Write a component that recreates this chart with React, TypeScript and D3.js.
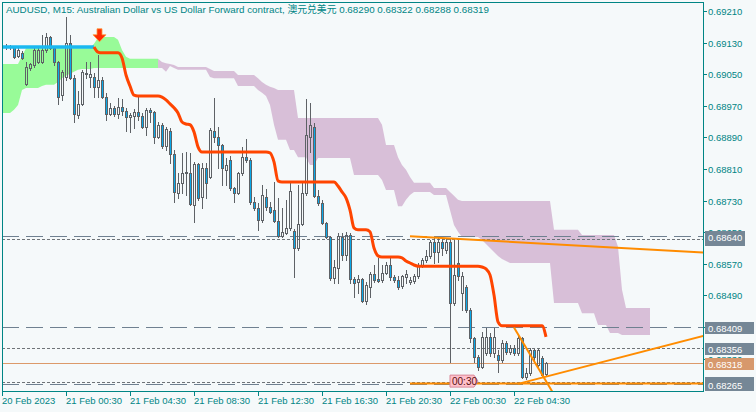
import React from 'react';
import * as d3 from 'd3';

// ---------------- data ----------------
const title = 'AUDUSD, M15:  Australian Dollar vs US Dollar Forward contract, 澳元兑美元  0.68290 0.68322 0.68288 0.68319';

const firstBarIndex = 1;
const opens = [
  0.69121, 0.69119, 0.69119, 0.69096, 0.69104, 0.69025, 0.69066, 0.69073, 0.69081, 0.69081,
  0.69111, 0.69144, 0.69116, 0.69081, 0.68997, 0.69043, 0.69129, 0.69040, 0.68947, 0.68975,
  0.69053, 0.69043, 0.69043, 0.69018, 0.69035, 0.68992, 0.68949, 0.68965, 0.68949, 0.68967,
  0.68957, 0.68942, 0.68944, 0.68954, 0.68944, 0.68916, 0.68960, 0.68954, 0.68891, 0.68922,
  0.68868, 0.68906, 0.68848, 0.68749, 0.68775, 0.68800, 0.68800, 0.68719, 0.68823, 0.68739,
  0.68813, 0.68790, 0.68906, 0.68891, 0.68871, 0.68808, 0.68833, 0.68762, 0.68749, 0.68800,
  0.68840, 0.68833, 0.68727, 0.68711, 0.68681, 0.68739, 0.68714, 0.68706, 0.68678, 0.68640,
  0.68648, 0.68661, 0.68653, 0.68610, 0.68671, 0.68749, 0.68891, 0.68916, 0.68742, 0.68724,
  0.68673, 0.68638, 0.68534, 0.68559, 0.68638, 0.68592, 0.68643, 0.68532, 0.68524, 0.68532,
  0.68476, 0.68511, 0.68544, 0.68532, 0.68529, 0.68547, 0.68567, 0.68537, 0.68529, 0.68514,
  0.68537, 0.68524, 0.68527, 0.68539, 0.68564, 0.68580, 0.68590, 0.68625, 0.68600, 0.68625,
  0.68605, 0.68625, 0.68471, 0.68572, 0.68496, 0.68511, 0.68453, 0.68382, 0.68334, 0.68309,
  0.68344, 0.68385, 0.68344, 0.68339, 0.68326, 0.68370, 0.68347, 0.68357, 0.68344, 0.68382,
  0.68283, 0.68293, 0.68352, 0.68314, 0.68331, 0.68290,
];
const highs = [
  0.69127, 0.69124, 0.69121, 0.69116, 0.69109, 0.69081, 0.69078, 0.69116, 0.69116, 0.69149,
  0.69154, 0.69147, 0.69119, 0.69083, 0.69061, 0.69195, 0.69149, 0.69048, 0.69008, 0.69061,
  0.69081, 0.69081, 0.69053, 0.69099, 0.69043, 0.69003, 0.68977, 0.68970, 0.68990, 0.68987,
  0.68965, 0.68952, 0.68962, 0.68992, 0.68952, 0.68965, 0.68965, 0.68957, 0.68929, 0.68927,
  0.68916, 0.68914, 0.68858, 0.68800, 0.68851, 0.68853, 0.68851, 0.68828, 0.68825, 0.68825,
  0.68825, 0.68914, 0.68990, 0.68916, 0.68873, 0.68838, 0.68843, 0.68765, 0.68803, 0.68866,
  0.68886, 0.68838, 0.68739, 0.68724, 0.68770, 0.68760, 0.68727, 0.68777, 0.68737, 0.68711,
  0.68732, 0.68775, 0.68658, 0.68770, 0.68775, 0.68987, 0.68977, 0.68927, 0.68757, 0.68732,
  0.68676, 0.68640, 0.68580, 0.68648, 0.68648, 0.68651, 0.68648, 0.68537, 0.68542, 0.68534,
  0.68524, 0.68549, 0.68567, 0.68585, 0.68567, 0.68575, 0.68587, 0.68542, 0.68539, 0.68542,
  0.68554, 0.68537, 0.68544, 0.68572, 0.68585, 0.68605, 0.68630, 0.68635, 0.68635, 0.68635,
  0.68635, 0.68635, 0.68630, 0.68630, 0.68549, 0.68516, 0.68458, 0.68385, 0.68339, 0.68397,
  0.68408, 0.68395, 0.68408, 0.68352, 0.68377, 0.68375, 0.68365, 0.68365, 0.68387, 0.68385,
  0.68306, 0.68357, 0.68354, 0.68354, 0.68337, 0.68322,
];
const lows = [
  0.69114, 0.69114, 0.69091, 0.69094, 0.69089, 0.69023, 0.69061, 0.69068, 0.69078, 0.69078,
  0.69106, 0.69114, 0.69073, 0.68975, 0.68985, 0.69035, 0.69038, 0.68929, 0.68939, 0.68972,
  0.69040, 0.69018, 0.68992, 0.68992, 0.68990, 0.68934, 0.68947, 0.68944, 0.68939, 0.68947,
  0.68906, 0.68904, 0.68914, 0.68934, 0.68914, 0.68896, 0.68929, 0.68876, 0.68889, 0.68863,
  0.68858, 0.68825, 0.68727, 0.68737, 0.68749, 0.68744, 0.68719, 0.68676, 0.68732, 0.68711,
  0.68737, 0.68787, 0.68878, 0.68813, 0.68770, 0.68770, 0.68757, 0.68727, 0.68747, 0.68795,
  0.68828, 0.68721, 0.68706, 0.68656, 0.68676, 0.68706, 0.68699, 0.68676, 0.68638, 0.68638,
  0.68645, 0.68656, 0.68537, 0.68605, 0.68668, 0.68744, 0.68853, 0.68739, 0.68719, 0.68671,
  0.68635, 0.68529, 0.68521, 0.68521, 0.68580, 0.68580, 0.68521, 0.68486, 0.68496, 0.68473,
  0.68468, 0.68486, 0.68524, 0.68524, 0.68524, 0.68544, 0.68529, 0.68524, 0.68506, 0.68509,
  0.68521, 0.68519, 0.68521, 0.68534, 0.68562, 0.68575, 0.68585, 0.68572, 0.68575, 0.68592,
  0.68597, 0.68321, 0.68466, 0.68529, 0.68453, 0.68448, 0.68372, 0.68321, 0.68301, 0.68306,
  0.68339, 0.68337, 0.68334, 0.68296, 0.68321, 0.68342, 0.68342, 0.68339, 0.68339, 0.68281,
  0.68278, 0.68288, 0.68326, 0.68309, 0.68283, 0.68288,
];
const closes = [
  0.69119, 0.69121, 0.69094, 0.69111, 0.69091, 0.69068, 0.69076, 0.69111, 0.69111, 0.69111,
  0.69144, 0.69116, 0.69081, 0.68992, 0.69056, 0.69129, 0.69040, 0.68949, 0.68975, 0.69056,
  0.69051, 0.69051, 0.69018, 0.69035, 0.68992, 0.68949, 0.68965, 0.68949, 0.68967, 0.68957,
  0.68942, 0.68947, 0.68954, 0.68944, 0.68916, 0.68960, 0.68954, 0.68891, 0.68922, 0.68868,
  0.68911, 0.68848, 0.68752, 0.68775, 0.68800, 0.68803, 0.68721, 0.68823, 0.68737, 0.68813,
  0.68775, 0.68909, 0.68891, 0.68871, 0.68813, 0.68820, 0.68762, 0.68749, 0.68800, 0.68840,
  0.68833, 0.68727, 0.68711, 0.68681, 0.68744, 0.68714, 0.68701, 0.68678, 0.68640, 0.68651,
  0.68661, 0.68754, 0.68610, 0.68671, 0.68749, 0.68896, 0.68922, 0.68742, 0.68724, 0.68673,
  0.68638, 0.68534, 0.68562, 0.68640, 0.68592, 0.68643, 0.68532, 0.68521, 0.68532, 0.68476,
  0.68516, 0.68544, 0.68529, 0.68527, 0.68547, 0.68567, 0.68537, 0.68529, 0.68511, 0.68539,
  0.68544, 0.68529, 0.68539, 0.68564, 0.68580, 0.68590, 0.68625, 0.68600, 0.68625, 0.68610,
  0.68625, 0.68471, 0.68542, 0.68539, 0.68539, 0.68453, 0.68382, 0.68334, 0.68309, 0.68385,
  0.68385, 0.68344, 0.68385, 0.68326, 0.68370, 0.68347, 0.68357, 0.68344, 0.68382, 0.68283,
  0.68293, 0.68352, 0.68334, 0.68352, 0.68288, 0.68319,
];

// base line (bar 0 .. 136); blue while price above, red afterwards
const kijun = [
  0.69119, 0.69119, 0.69119, 0.69119, 0.69119, 0.69119, 0.69119, 0.69119, 0.69119, 0.69119,
  0.69119, 0.69119, 0.69119, 0.69119, 0.69119, 0.69119, 0.69119, 0.69119, 0.69119, 0.69119,
  0.69119, 0.69119, 0.69119, 0.69119, 0.69106, 0.69104, 0.69104, 0.69104, 0.69104, 0.69104,
  0.69091, 0.69048, 0.69020, 0.68997, 0.68995, 0.68995, 0.68995, 0.68995, 0.68995, 0.68995,
  0.68992, 0.68985, 0.68975, 0.68965, 0.68952, 0.68929, 0.68924, 0.68922, 0.68904, 0.68866,
  0.68853, 0.68853, 0.68853, 0.68853, 0.68853, 0.68853, 0.68853, 0.68853, 0.68853, 0.68853,
  0.68853, 0.68853, 0.68853, 0.68853, 0.68853, 0.68853, 0.68853, 0.68851, 0.68828, 0.68780,
  0.68777, 0.68777, 0.68777, 0.68777, 0.68777, 0.68777, 0.68777, 0.68777, 0.68777, 0.68777,
  0.68777, 0.68777, 0.68777, 0.68777, 0.68767, 0.68752, 0.68737, 0.68706, 0.68661, 0.68656,
  0.68656, 0.68656, 0.68651, 0.68610, 0.68590, 0.68587, 0.68587, 0.68587, 0.68587, 0.68587,
  0.68585, 0.68577, 0.68572, 0.68567, 0.68564, 0.68564, 0.68564, 0.68564, 0.68564, 0.68564,
  0.68564, 0.68564, 0.68564, 0.68564, 0.68564, 0.68564, 0.68564, 0.68564, 0.68564, 0.68564,
  0.68562, 0.68557, 0.68542, 0.68491, 0.68423, 0.68413, 0.68413, 0.68413, 0.68413, 0.68413,
  0.68413, 0.68413, 0.68413, 0.68413, 0.68413, 0.68413, 0.68385,
];
const kijunBlueUntil = 23;

// cloud edges, bar 0 .. 162
const cloudTop = [
  0.69076, 0.69076, 0.69076, 0.69076, 0.69076, 0.69096, 0.69116, 0.69116, 0.69116, 0.69116,
  0.69116, 0.69116, 0.69116, 0.69116, 0.69116, 0.69116, 0.69116, 0.69116, 0.69116, 0.69116,
  0.69116, 0.69116, 0.69116, 0.69127, 0.69142, 0.69144, 0.69144, 0.69144, 0.69144, 0.69137,
  0.69111, 0.69094, 0.69089, 0.69089, 0.69089, 0.69089, 0.69089, 0.69089, 0.69089, 0.69089,
  0.69081, 0.69078, 0.69076, 0.69073, 0.69068, 0.69068, 0.69068, 0.69068, 0.69068, 0.69068,
  0.69068, 0.69068, 0.69063, 0.69058, 0.69058, 0.69058, 0.69058, 0.69058, 0.69058, 0.69048,
  0.69048, 0.69048, 0.69048, 0.69048, 0.69040, 0.69030, 0.69023, 0.69018, 0.69015, 0.69010,
  0.69010, 0.69010, 0.69010, 0.69010, 0.68939, 0.68939, 0.68939, 0.68939, 0.68939, 0.68939,
  0.68939, 0.68939, 0.68939, 0.68939, 0.68939, 0.68939, 0.68939, 0.68939, 0.68939, 0.68939,
  0.68939, 0.68939, 0.68939, 0.68939, 0.68939, 0.68922, 0.68871, 0.68871, 0.68871, 0.68840,
  0.68820, 0.68808, 0.68790, 0.68775, 0.68775, 0.68775, 0.68775, 0.68775, 0.68762, 0.68762,
  0.68762, 0.68762, 0.68752, 0.68742, 0.68732, 0.68729, 0.68729, 0.68729, 0.68729, 0.68729,
  0.68729, 0.68729, 0.68729, 0.68729, 0.68729, 0.68729, 0.68729, 0.68729, 0.68729, 0.68729,
  0.68729, 0.68729, 0.68729, 0.68729, 0.68729, 0.68729, 0.68729, 0.68729, 0.68656, 0.68656,
  0.68656, 0.68656, 0.68656, 0.68656, 0.68656, 0.68643, 0.68643, 0.68643, 0.68643, 0.68643,
  0.68643, 0.68643, 0.68643, 0.68643, 0.68613, 0.68504, 0.68458, 0.68458, 0.68458, 0.68458,
  0.68458, 0.68458, 0.68458,
];
const cloudBottom = [
  0.68952, 0.68952, 0.68952, 0.68960, 0.68972, 0.69010, 0.69015, 0.69015, 0.69015, 0.69015,
  0.69020, 0.69023, 0.69023, 0.69023, 0.69030, 0.69040, 0.69046, 0.69051, 0.69056, 0.69061,
  0.69063, 0.69063, 0.69063, 0.69066, 0.69066, 0.69066, 0.69066, 0.69066, 0.69066, 0.69066,
  0.69066, 0.69066, 0.69066, 0.69066, 0.69066, 0.69066, 0.69066, 0.69066, 0.69066, 0.69066,
  0.69066, 0.69056, 0.69071, 0.69066, 0.69061, 0.69061, 0.69061, 0.69061, 0.69061, 0.69061,
  0.69061, 0.69061, 0.69043, 0.69040, 0.69040, 0.69040, 0.69040, 0.69040, 0.69040, 0.69020,
  0.69020, 0.69020, 0.69020, 0.69020, 0.69010, 0.69003, 0.68995, 0.68972, 0.68922, 0.68884,
  0.68884, 0.68884, 0.68858, 0.68858, 0.68840, 0.68840, 0.68840, 0.68820, 0.68820, 0.68838,
  0.68838, 0.68838, 0.68838, 0.68838, 0.68838, 0.68838, 0.68838, 0.68838, 0.68795, 0.68795,
  0.68795, 0.68795, 0.68795, 0.68795, 0.68795, 0.68782, 0.68757, 0.68757, 0.68757, 0.68716,
  0.68716, 0.68732, 0.68744, 0.68752, 0.68752, 0.68752, 0.68752, 0.68752, 0.68744, 0.68744,
  0.68744, 0.68744, 0.68706, 0.68668, 0.68651, 0.68638, 0.68638, 0.68638, 0.68638, 0.68638,
  0.68630, 0.68620, 0.68610, 0.68600, 0.68590, 0.68582, 0.68577, 0.68572, 0.68572, 0.68572,
  0.68572, 0.68572, 0.68572, 0.68572, 0.68572, 0.68572, 0.68572, 0.68572, 0.68471, 0.68471,
  0.68471, 0.68471, 0.68471, 0.68471, 0.68471, 0.68445, 0.68445, 0.68445, 0.68445, 0.68415,
  0.68415, 0.68415, 0.68395, 0.68395, 0.68395, 0.68390, 0.68390, 0.68390, 0.68390, 0.68390,
  0.68390, 0.68390, 0.68390,
];
const cloudGreenUntil = 39;

const priceTicks = [0.6921, 0.6913, 0.6905, 0.6897, 0.6889, 0.6881, 0.6873, 0.6865, 0.6857, 0.6849, 0.6841, 0.6833];
const timeLabels = ['20 Feb 2023', '21 Feb 00:30', '21 Feb 04:30', '21 Feb 08:30', '21 Feb 12:30', '21 Feb 16:30', '21 Feb 20:30', '22 Feb 00:30', '22 Feb 04:30'];
const timeLabelBars = [0, 16, 32, 48, 64, 80, 96, 112, 128];

const longDashLevels = [0.6864, 0.68409, 0.68265];
const shortDashLevels = [0.68633, 0.68356, 0.68272];
const bidPrice = 0.68318;
// labels drawn on the price scale, back to front
const labelLevels = [0.68633, 0.6864, 0.68409, 0.68356, 0.68318, 0.68272, 0.68265];

const trendLines: [number, number][][] = [
  [[102, 0.6864], [162, 0.68606]],
  [[129, 0.68266], [150, 0.68321]],
  [[128, 0.68409], [136, 0.68273]],
  [[102, 0.68267], [162, 0.68267]],
];
const signalArrow = { bar: 24, price: 0.69132 };
const timeMarker = { bar: 112, price: 0.68273, text: '00:30' };

// ---------------- styles ----------------
const W = 756;
const H = 412;
const bg = '#f5f9fa';
const teal = '#008585';
const wickColor = '#5e6266';
const bearFill = '#0aa8e8';
const font = "'Liberation Sans', Arial, 'Noto Sans CJK SC', sans-serif";
const labelBoxRight = [745, 745, 754, 754, 754, 754, 754];
const labelHidden = [true, false, false, false, false, true, false];

export default function App() {
  const x = d3.scaleLinear().domain([0, 175.25]).range([2, 703]);
  const y = d3.scaleLinear().domain([0.6825, 0.6921]).range([390.2, 11]);

  const greenArea = d3
    .area<number>()
    .x((_, i) => x(i))
    .y0((d, i) => y(cloudBottom[i]))
    .y1((d) => y(d))
    .defined((_, i) => i <= cloudGreenUntil)(cloudTop);
  const purpleArea = d3
    .area<number>()
    .x((_, i) => x(i))
    .y0((d, i) => y(cloudBottom[i]))
    .y1((d) => y(d))
    .defined((_, i) => i >= cloudGreenUntil)(cloudTop);

  const kLine = d3
    .line<[number, number]>()
    .x((d) => x(d[0]))
    .y((d) => y(d[1]))
    .curve(d3.curveMonotoneX);
  const kPts: [number, number][] = kijun.map((v, i) => [i, v]);
  const bluePath = kLine(kPts.slice(0, kijunBlueUntil + 1));
  const redPath = kLine(kPts.slice(kijunBlueUntil));

  const endBar = 176;
  const trendPaths = trendLines.map(([[i1, p1], [i2, p2]]) => {
    const slope = (p2 - p1) / (i2 - i1);
    const pe = p1 + slope * (endBar - i1);
    return `M${x(i1)},${y(p1)}L${x(endBar)},${y(pe)}`;
  });

  const ax = x(signalArrow.bar) + 1.5;
  const ay = y(signalArrow.price);
  const arrowPts = [
    [ax - 2.5, ay - 13], [ax + 2.5, ay - 13], [ax + 2.5, ay - 7], [ax + 6.5, ay - 7],
    [ax, ay], [ax - 6.5, ay - 7], [ax - 2.5, ay - 7],
  ].map((p) => p.join(',')).join(' ');

  const mx = x(timeMarker.bar);
  const my = y(timeMarker.price);
  const markerPts = [
    [mx, my - 6], [mx + 24, my - 6], [mx + 28, my], [mx + 24, my + 6], [mx, my + 6],
  ].map((p) => p.join(',')).join(' ');

  return (
    <svg
      width={W}
      height={H}
      style={{ position: 'fixed', left: 0, top: 0, display: 'block' }}
      fontFamily={font}
    >
      <defs>
        <clipPath id="plot">
          <rect x={2} y={2} width={701} height={389} />
        </clipPath>
      </defs>
      <rect x={0} y={0} width={W} height={H} fill={bg} />

      <g clipPath="url(#plot)">
        <path d={greenArea || ''} fill="#98fb98" />
        <path d={purpleArea || ''} fill="#d8bfd8" />

        {longDashLevels.map((v) => (
          <line key={'ld' + v} x1={2} x2={703} y1={Math.round(y(v)) + 0.5} y2={Math.round(y(v)) + 0.5}
            stroke="#6f8090" strokeWidth={1} strokeDasharray="17,7" />
        ))}
        {shortDashLevels.map((v) => (
          <line key={'sd' + v} x1={2} x2={703} y1={Math.round(y(v)) + 0.5} y2={Math.round(y(v)) + 0.5}
            stroke="#6f7478" strokeWidth={1} strokeDasharray="3,2" />
        ))}
        <line x1={2} x2={703} y1={Math.round(y(bidPrice)) + 0.5} y2={Math.round(y(bidPrice)) + 0.5}
          stroke="#dc9a6a" strokeWidth={1} />

        {opens.map((o, i) => {
          const k = i + firstBarIndex;
          const cx = Math.round(x(k));
          const c = closes[i];
          const yh = Math.round(y(highs[i]));
          const yl = Math.round(y(lows[i]));
          const yo = Math.round(y(o));
          const yc = Math.round(y(c));
          const top = Math.min(yo, yc);
          const bot = Math.max(yo, yc);
          const bear = c < o;
          return (
            <g key={k}>
              {top > yh && <rect x={cx} y={yh} width={1} height={top - yh} fill={wickColor} />}
              {yl > bot && <rect x={cx} y={bot + 1} width={1} height={yl - bot} fill={wickColor} />}
              <rect x={cx - 0.5} y={top + 0.5} width={2} height={Math.max(bot - top, 0.01)}
                fill={bear ? bearFill : 'none'} stroke={wickColor} strokeWidth={1} />
            </g>
          );
        })}

        <path d={bluePath || ''} fill="none" stroke="#1ab8f0" strokeWidth={3.5} />
        <path d={redPath || ''} fill="none" stroke="#ff4500" strokeWidth={3} />

        {trendPaths.map((d, i) => (
          <path key={'tl' + i} d={d} fill="none" stroke="#ff8c00" strokeWidth={2} />
        ))}

        <polygon points={arrowPts} fill="#ff2a00" stroke="#ff9a3a" strokeWidth={0.8} />

        <polygon points={markerPts} fill="#ffc0cb" stroke="#d88898" strokeWidth={1} />
        <text x={mx + 2} y={my + 4} fontSize={10} fill="#5a1010">{timeMarker.text}</text>
      </g>

      {/* frame */}
      <rect x={2.5} y={2.5} width={701} height={389} fill="none" stroke={teal} strokeWidth={1} />

      {/* title */}
      <text x={6} y={13} fontSize={9.8} fill={teal}>{title}</text>

      {/* price axis */}
      {priceTicks.map((v) => {
        const yy = Math.round(y(v)) + 0.5;
        return (
          <g key={'pt' + v}>
            <line x1={703} x2={707} y1={yy} y2={yy} stroke={teal} strokeWidth={1} />
            <text x={708} y={yy + 3.5} fontSize={9.5} fill={teal}>{v.toFixed(5)}</text>
          </g>
        );
      })}
      {labelLevels.map((v, i) => {
        const yy = y(v);
        const isBid = v === bidPrice;
        return (
          <g key={'lb' + i}>
            <rect x={705} y={Math.round(yy) - 5} width={labelBoxRight[i] - 705} height={12}
              fill={isBid ? '#d7986c' : '#758796'} />
            {!labelHidden[i] && (
              <text x={708} y={Math.round(yy) + 4.5} fontSize={9.5} fill="#ffffff">{v.toFixed(5)}</text>
            )}
          </g>
        );
      })}

      {/* time axis */}
      {timeLabelBars.map((b, i) => {
        const xx = Math.round(x(b)) + 0.5;
        return (
          <g key={'tt' + b}>
            <line x1={xx} x2={xx} y1={391} y2={396} stroke={teal} strokeWidth={1} />
            <text x={xx - 0.5} y={404} fontSize={9.5} fill={teal}>{timeLabels[i]}</text>
          </g>
        );
      })}
    </svg>
  );
}
